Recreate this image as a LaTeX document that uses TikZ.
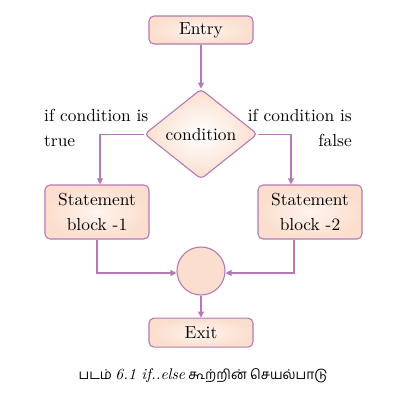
\documentclass[tikz,border=0pt]{standalone}
\usepackage{fontspec}
\usetikzlibrary{positioning,arrows.meta,shapes.geometric}
\setmainfont{lmroman10}[Extension=.otf,UprightFont=*-regular,ItalicFont=*-italic,
  BoldFont=*-bold]
\newfontfamily\tamilfont[Script=Tamil]{Hind Madurai}
\definecolor{flowline}{RGB}{180,122,184}
\definecolor{flowfill}{RGB}{251,222,205}
\definecolor{flowglow}{RGB}{254,244,238}

\begin{document}
\begin{tikzpicture}[
  x=1pt,y=-1pt,
  font=\fontsize{17.4}{24.5}\selectfont,
  box/.style={rectangle,rounded corners=5pt,draw=flowline,line width=1.1pt,
              shading=radial,inner color=flowglow,outer color=flowfill,
              minimum width=104pt,align=center,inner sep=2pt},
  decision/.style={diamond,rounded corners=4pt,draw=flowline,line width=1.1pt,
              shading=radial,inner color=white,outer color=flowfill,
              minimum width=113pt,minimum height=90pt,aspect=1.25,inner sep=0pt},
  merge/.style={circle,draw=flowline,line width=1.1pt,fill=flowfill,
              minimum size=48pt,inner sep=0pt},
  lbl/.style={inner sep=0pt},
  arr/.style={-{Triangle[length=6pt,width=6pt]},line width=1.1pt,flowline},
]
\useasboundingbox (0,0) rectangle (405,394);

\node[box,minimum height=28pt] (entry) at (201,30) {Entry};
\node[decision,below=44pt of entry] (cond) {condition};
\node[box,minimum height=54pt] (sb1) at (97,212) {Statement\\block -1};
\node[box,minimum height=54pt] (sb2) at (310,212) {Statement\\block -2};
\node[merge] (join) at (201,271) {};
\node[box,minimum height=29pt,below=22pt of join] (exit) {Exit};

\node[lbl,anchor=base west,align=left] (iftrue) at (44,146)
   {if condition is\\true};
\node[lbl,anchor=base east,align=right] (iffalse) at (352,146)
   {if condition is\\false};

\draw[arr] (entry)--(cond);
\draw[arr] (cond.west) -| ([xshift=3pt]sb1.north);
\draw[arr] (cond.east) -| ([xshift=-19pt]sb2.north);
\draw[arr] (sb1.south) |- ([yshift=-2pt]join.west);
\draw[arr] ([xshift=-16pt]sb2.south) |- ([yshift=-2pt]join.east);
\draw[arr] (join)--(exit);

\node[lbl,anchor=base,font=\fontsize{13.5}{16}\selectfont] (caption) at (203,379)
   {\tamilfont படம்\ {\rmfamily\itshape\fontsize{15.5}{16}\selectfont 6.1 if..else}\ கூற்றின் செயல்பாடு};
\end{tikzpicture}
\end{document}
